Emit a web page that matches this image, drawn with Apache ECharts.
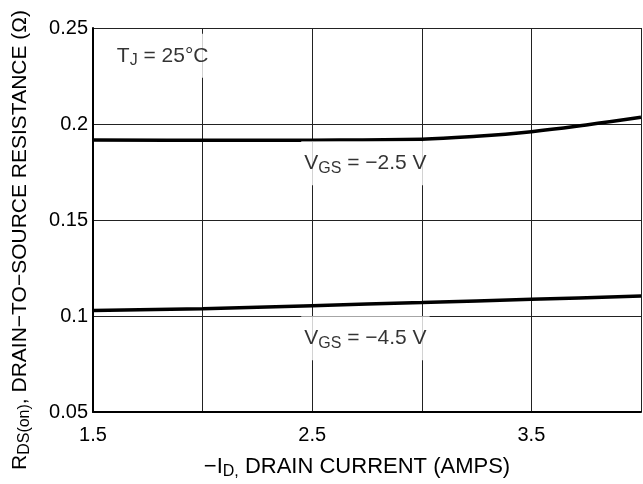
<!DOCTYPE html>
<html>
<head>
<meta charset="utf-8">
<script src="https://cdn.jsdelivr.net/npm/echarts@6/dist/echarts.min.js"></script>
<style>
html,body{margin:0;padding:0;background:#fff;}
#c{width:643px;height:484px;}
</style>
</head>
<body>
<div id="c"></div>
<script>
// Data
const vgs25 = [[1.5,0.1917],[2.0,0.1915],[2.5,0.1916],[3.0,0.1921],[3.25,0.1936],[3.5,0.196],[3.75,0.1995],[4.0,0.2035]];
const vgs45 = [[1.5,0.1028],[2.0,0.1038],[2.5,0.1054],[3.0,0.1070],[3.5,0.1087],[4.0,0.1104]];
const xTickLabels = ['1.5','2.5','3.5'];
const yTickLabels = ['0.05','0.1','0.15','0.2','0.25'];
const annotations = [
  [1.595, 0.2355, '{n|T}{s|J}{n| = 25°C}'],
  [2.45, 0.1795, '{n|V}{s|GS}{n| = −2.5 V}'],
  [2.45, 0.0884, '{n|V}{s|GS}{n| = −4.5 V}']
];

const FONT = 'Liberation Sans, Arial, sans-serif';
const rich = {
  n: {fontSize: 21, fontFamily: FONT, color: '#000'},
  s: {fontSize: 16, fontFamily: FONT, color: '#000', padding: [10,0,0,0]}
};
const richX = {
  n: {fontSize: 22, fontFamily: FONT, color: '#000'},
  s: {fontSize: 16, fontFamily: FONT, color: '#000', padding: [10,0,0,0]}
};
const richY = {
  n: {fontSize: 21, fontFamily: FONT, color: '#000'},
  s: {fontSize: 16, fontFamily: FONT, color: '#000', padding: [10,0,0,0]}
};

const chart = echarts.init(document.getElementById('c'), null, {renderer: 'canvas'});
chart.setOption({
  animation: false,
  backgroundColor: '#fff',
  grid: {left: 93, right: 2, top: 28, bottom: 72, containLabel: false, outerBoundsMode: 'none'},
  xAxis: {
    type: 'value', min: 1.5, max: 4.0, interval: 0.5,
    name: '{n|−I}{s|D,}{n| DRAIN CURRENT (AMPS)}',
    nameLocation: 'middle', nameGap: 42,
    nameTextStyle: {rich: richX, padding: [0, 20, 0, 0]},
    axisLine: {show: true, onZero: false, lineStyle: {color: '#000', width: 2}},
    axisTick: {show: false},
    axisLabel: {
      fontSize: 20, fontFamily: FONT, color: '#000', margin: 13,
      formatter: v => { const s = String(v); return xTickLabels.indexOf(s) >= 0 ? s : ''; }
    },
    splitLine: {show: true, lineStyle: {color: '#222', width: 1}}
  },
  yAxis: {
    type: 'value', min: 0.05, max: 0.25, interval: 0.05,
    name: '{n|R}{s|DS(on)}{n|, DRAIN−TO−SOURCE RESISTANCE (Ω)}',
    nameLocation: 'middle', nameGap: 60, nameRotate: 90,
    nameTextStyle: {rich: richY, padding: [0, 40, 0, 0]},
    axisLine: {show: true, onZero: false, lineStyle: {color: '#000', width: 2}},
    axisTick: {show: false},
    axisLabel: {
      fontSize: 20, fontFamily: FONT, color: '#000', margin: 5,
      formatter: v => { const s = String(+v.toFixed(2)); return yTickLabels.indexOf(s) >= 0 ? s : ''; }
    },
    splitLine: {show: true, lineStyle: {color: '#222', width: 1}}
  },
  series: [
    {type: 'line', name: 'VGS -2.5', data: vgs25, smooth: 0.4, showSymbol: false,
     lineStyle: {color: '#000', width: 3.5}, z: 3},
    {type: 'line', name: 'VGS -4.5', data: vgs45, smooth: 0.3, showSymbol: false,
     lineStyle: {color: '#000', width: 3.5}, z: 3},
    {type: 'scatter', data: annotations, symbolSize: 0, z: 4,
     label: {show: true, position: 'right', distance: 0,
       formatter: p => p.data[2], rich: rich,
       backgroundColor: '#fff', padding: [9, 3, 9, 3]}}
  ]
});
</script>
</body>
</html>
